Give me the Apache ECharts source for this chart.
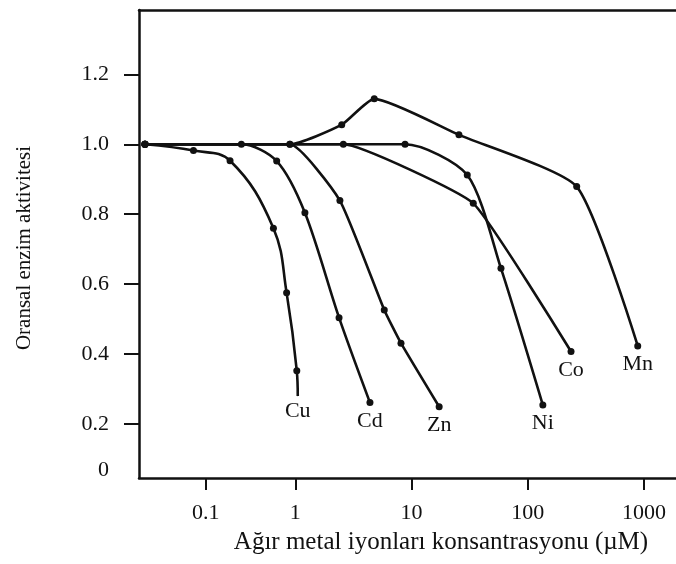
<!DOCTYPE html>
<html>
<head>
<meta charset="utf-8">
<script src="https://cdn.jsdelivr.net/npm/echarts@6/dist/echarts.min.js"></script>
<style>
html,body{margin:0;padding:0;background:#fff;}
#chart{width:676px;height:564px;}
</style>
</head>
<body>
<div id="chart"></div>
<script>
// konsantrasyon (µM) ve oransal aktivite, her metal icin
var cuX=[0.021,0.073,0.187,0.57,0.80,1.03,1.05];
var cuY=[1.0,0.982,0.953,0.76,0.575,0.352,0.28];
var cdX=[0.021,0.25,0.62,1.21,2.38,4.39];
var cdY=[1.0,1.0,0.952,0.804,0.504,0.261];
var znX=[0.021,0.87,2.42,5.83,8.12,17.3];
var znY=[1.0,1.0,0.839,0.526,0.431,0.249];
var niX=[0.021,8.8,30.2,58.9,135];
var niY=[1.0,1.0,0.912,0.645,0.254];
var coX=[0.021,2.59,34,236];
var coY=[1.0,1.0,0.831,0.407];
var mnX=[0.021,0.87,2.51,4.78,25.6,264,885];
var mnY=[1.0,1.0,1.056,1.13,1.027,0.879,0.423];
var xTicks=[0.1,1,10,100,1000];
var yTicks=[0.2,0.4,0.6,0.8,1.0,1.2];

var FONT='"Liberation Serif","DejaVu Serif",serif';
var LOW=89.6/116.2;  //orijinal sekilde 1'in altindaki dekad daha dar
function pos(c){
	var l=Math.log10(c);
	return l<0?l*LOW:l;
}
function makeSeries(name,xs,ys,off,smooth,lastNoDot){
	var data=xs.map(function(x,i){
		var item={value:[pos(x),ys[i]]};
		if(i===xs.length-1){
			item.label={show:true,position:'bottom',distance:4,offset:off,formatter:name,
				fontFamily:FONT,fontSize:22,color:'#111',lineHeight:22};
			if(lastNoDot){item.symbolSize=0.5;}
		}
		return item;
	});
	return {
		name:name,type:'line',data:data,
		smooth:smooth,
		symbol:'circle',symbolSize:7,
		itemStyle:{color:'#111'},
		lineStyle:{color:'#111',width:2.6},
		label:{show:false},
		labelLayout:{hideOverlap:false},
		animation:false
	};
}
var xLabelVals=xTicks.map(pos);
var chart=echarts.init(document.getElementById('chart'));
chart.setOption({
	backgroundColor:'#fff',
	grid:{left:139,top:10,right:0,bottom:86},
	xAxis:[{
		type:'value',min:(139-295.3)/116.2,max:(676-295.3)/116.2,
		splitLine:{show:false},
		axisLine:{onZero:false,lineStyle:{color:'#111',width:2.5}},
		axisTick:{customValues:xLabelVals,length:12,lineStyle:{color:'#111',width:2}},
		axisLabel:{customValues:xLabelVals,margin:24,fontFamily:FONT,fontSize:22,color:'#111',
			formatter:function(v){
				var i=xLabelVals.findIndex(function(p){return Math.abs(p-v)<1e-6;});
				return i<0?'':String(xTicks[i]);
			}},
		name:'Ağır metal iyonları konsantrasyonu (µM)',
		nameLocation:'middle',nameGap:52,
		nameTextStyle:{fontFamily:FONT,fontSize:25,color:'#111',padding:[0,0,0,67]}
	},{
		type:'value',position:'top',min:0,max:1,
		axisLine:{show:true,onZero:false,lineStyle:{color:'#111',width:2.5}},
		axisTick:{show:false},axisLabel:{show:false},splitLine:{show:false}
	}],
	yAxis:{
		type:'value',min:1.0-(478-144.3)/349.5,max:1.0+(144.3-10)/349.5,
		splitLine:{show:false},
		axisLine:{onZero:false,lineStyle:{color:'#111',width:2.5}},
		axisTick:{customValues:yTicks,length:15,lineStyle:{color:'#111',width:2}},
		axisLabel:{customValues:[0.068].concat(yTicks),margin:30,fontFamily:FONT,fontSize:22,color:'#111',
			formatter:function(v){return v<0.1?'0':v.toFixed(1);}},
		name:'Oransal enzim aktivitesi',
		nameLocation:'middle',nameGap:104,
		nameTextStyle:{fontFamily:FONT,fontSize:21,color:'#111',padding:[0,8,0,0]}
	},
	series:[
		makeSeries('Cu',cuX,cuY,[0,3],0.4,true),
		makeSeries('Cd',cdX,cdY,[2,4],0.3),
		makeSeries('Zn',znX,znY,[6,5],0.15),
		makeSeries('Ni',niX,niY,[-1,4],0.25),
		makeSeries('Co',coX,coY,[1,3],0.12),
		makeSeries('Mn',mnX,mnY,[-5,5],0.18)
	]
});
</script>
</body>
</html>
